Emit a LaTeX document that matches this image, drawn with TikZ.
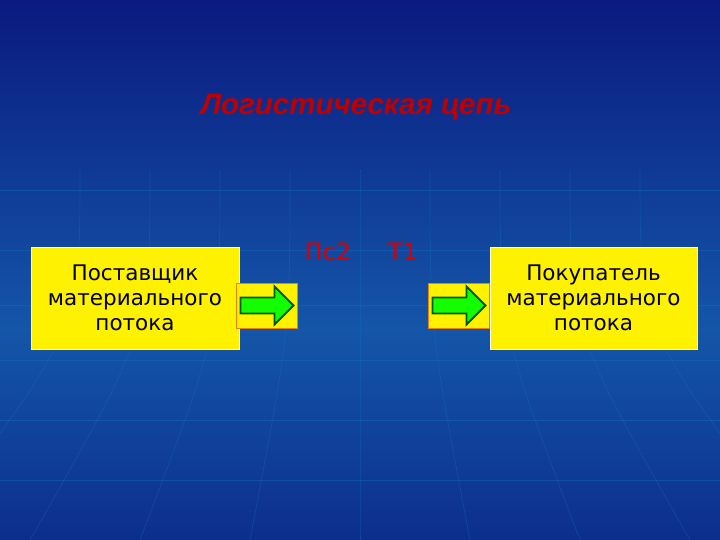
\documentclass[tikz,border=0pt]{standalone}
\usepackage{fontspec}
\setmainfont{DejaVu Sans}
\newfontfamily\titlefont{Liberation Sans}
\begin{document}
\begin{tikzpicture}[x=1pt,y=-1pt,
  ybox/.style={draw=white!85!yellow,line width=0.8pt,fill=yellow,align=center,font=\fontsize{21.5}{25}\selectfont,inner sep=0pt},
  btn/.style={fill=yellow,draw=orange!70!brown,line width=1pt},
  grn/.style={fill=green!90!lime,draw=green!35!black,line width=1.8pt,line join=miter},
  grid/.style={draw=cyan!60!blue,opacity=0.35,line width=0.6pt},
  lbl/.style={text=red!85!black,font=\fontsize{24}{26}\selectfont}]
\definecolor{bgtop}{HTML}{0A1A80}
\definecolor{bgmid}{HTML}{1456A8}
\definecolor{bgbot}{HTML}{0C2E8C}
\useasboundingbox (0,0) rectangle (720,540);
\shade[top color=bgtop,bottom color=bgmid] (0,0) rectangle (720,330);
\shade[top color=bgmid,bottom color=bgbot] (0,330) rectangle (720,540);
% faint globe grid
\foreach \y in {190,250,305,360,420,480} \draw[grid] (0,\y) -- (720,\y);
\foreach \x/\b in {360/360,290/250,430/470,220/140,500/580,150/30,570/690,80/-80,640/800} \draw[grid] (\x,170) .. controls (\x,330) .. (\b,540);
% boxes
\node[ybox,minimum width=208,minimum height=102] (sup) at (135,298) {Поставщик\\материального\\потока};
\node[ybox,minimum width=207,minimum height=102] (buy) at (593.5,298) {Покупатель\\материального\\потока};
% buttons
\node[btn,minimum width=61,minimum height=45,inner sep=0pt] (b1) at (266.5,305.5) {};
\node[btn,minimum width=61,minimum height=45,inner sep=0pt] (b2) at (458.5,305.5) {};
\foreach \b in {b1,b2}{
  \draw[grn] ([xshift=-26,yshift=-8]\b.center) -- ([xshift=8,yshift=-8]\b.center) -- ([xshift=8,yshift=-19]\b.center) -- ([xshift=27,yshift=0]\b.center) -- ([xshift=8,yshift=19]\b.center) -- ([xshift=8,yshift=8]\b.center) -- ([xshift=-26,yshift=8]\b.center) -- cycle;
}
% labels
\node[lbl] (ps) at (328,252) {Пс2};
\node[lbl] (t1) at (403,252) {Т1};
% title
\node[text=red!75!black,font=\titlefont\fontsize{29.5}{33}\selectfont\bfseries\itshape] (title) at (356,107) {Логистическая цепь};
\end{tikzpicture}
\end{document}
